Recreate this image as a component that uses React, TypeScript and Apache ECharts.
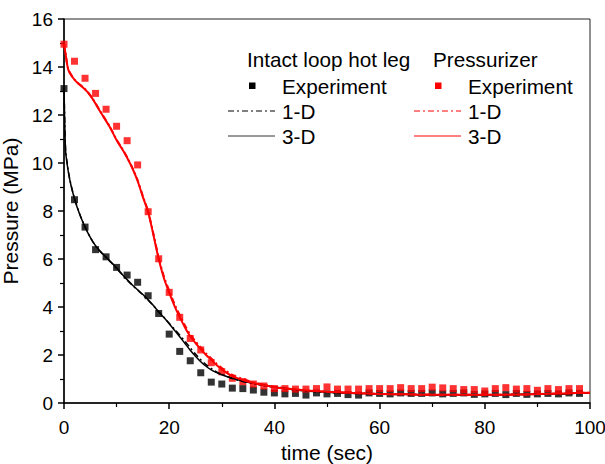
import React, { useEffect, useRef } from "react";
import * as echarts from "echarts";

// ---- data ----
const expTime = [0, 2, 4, 6, 8, 10, 12, 14, 16, 18, 20, 22, 24, 26, 28, 30, 32, 34, 36, 38, 40, 42, 44, 46, 48, 50, 52, 54, 56, 58, 60, 62, 64, 66, 68, 70, 72, 74, 76, 78, 80, 82, 84, 86, 88, 90, 92, 94, 96, 98];

const hotLegExp = [13.1, 8.47, 7.33, 6.39, 6.09, 5.65, 5.33, 5.03, 4.47, 3.73, 2.87, 2.15, 1.76, 1.26, 0.87, 0.79, 0.62, 0.6, 0.54, 0.45, 0.42, 0.38, 0.4, 0.33, 0.42, 0.38, 0.4, 0.35, 0.33, 0.42, 0.4, 0.38, 0.42, 0.4, 0.4, 0.42, 0.38, 0.4, 0.42, 0.36, 0.38, 0.4, 0.35, 0.4, 0.36, 0.38, 0.4, 0.38, 0.42, 0.4];

const przExp = [14.95, 14.24, 13.53, 12.9, 12.24, 11.53, 10.93, 9.92, 7.97, 6.01, 4.61, 3.57, 2.69, 2.21, 1.68, 1.3, 1.03, 0.89, 0.79, 0.71, 0.6, 0.6, 0.58, 0.58, 0.6, 0.67, 0.58, 0.58, 0.58, 0.6, 0.6, 0.6, 0.64, 0.6, 0.6, 0.66, 0.63, 0.6, 0.56, 0.56, 0.5, 0.6, 0.64, 0.58, 0.6, 0.53, 0.6, 0.56, 0.6, 0.6];

const hotLeg3D = [[0, 13.1], [0.15, 11.6], [0.3, 10.5], [0.6, 9.95], [1.1, 9.3], [2, 8.5], [3, 7.85], [4, 7.33], [5, 6.9], [6, 6.55], [7, 6.3], [8, 6.08], [9, 5.86], [10, 5.63], [11, 5.38], [12, 5.14], [13, 4.92], [14, 4.72], [15, 4.52], [16, 4.3], [17, 4.06], [18, 3.8], [19, 3.56], [20, 3.3], [21, 3.03], [22, 2.76], [23, 2.48], [24, 2.2], [25, 1.95], [26, 1.72], [27, 1.53], [28, 1.38], [29, 1.27], [30, 1.18], [32, 1.03], [34, 0.91], [36, 0.82], [38, 0.74], [40, 0.67], [43, 0.58], [46, 0.51], [50, 0.45], [55, 0.41], [60, 0.38], [65, 0.36], [70, 0.34], [75, 0.34], [80, 0.34], [85, 0.35], [90, 0.37], [95, 0.39], [100, 0.42]];

const hotLeg1D = [[0, 13.1], [0.15, 11.7], [0.3, 10.6], [0.6, 10.0], [1.1, 9.32], [2, 8.52], [3, 7.86], [4, 7.34], [5, 6.9], [6, 6.54], [7, 6.28], [8, 6.06], [9, 5.84], [10, 5.6], [11, 5.36], [12, 5.12], [13, 4.9], [14, 4.7], [15, 4.5], [16, 4.28], [17, 4.05], [18, 3.8], [19, 3.57], [20, 3.32], [21, 3.08], [22, 2.83], [23, 2.57], [24, 2.3], [25, 2.04], [26, 1.8], [27, 1.6], [28, 1.44], [29, 1.3], [30, 1.19], [32, 1.02], [34, 0.9], [36, 0.81], [38, 0.73], [40, 0.66], [43, 0.57], [46, 0.5], [50, 0.44], [55, 0.4], [60, 0.37], [65, 0.35], [70, 0.34], [75, 0.33], [80, 0.34], [85, 0.35], [90, 0.36], [95, 0.38], [100, 0.41]];

const prz3D = [[0, 14.95], [0.3, 14.55], [0.8, 13.9], [1.7, 13.55], [2.6, 13.33], [3.6, 13.15], [4.5, 12.95], [5.5, 12.65], [7, 12.1], [8.7, 11.5], [10, 10.95], [11, 10.6], [12, 10.22], [13, 9.78], [14, 9.25], [15, 8.58], [16, 7.95], [17, 7.0], [18, 6.0], [19, 5.2], [20, 4.6], [21, 4.05], [22, 3.58], [23, 3.15], [24, 2.78], [25, 2.5], [26, 2.25], [27, 2.0], [28, 1.8], [29, 1.58], [30, 1.4], [32, 1.12], [34, 0.96], [36, 0.83], [38, 0.74], [40, 0.66], [43, 0.58], [46, 0.52], [50, 0.47], [55, 0.42], [60, 0.38], [65, 0.36], [70, 0.34], [75, 0.34], [80, 0.34], [85, 0.35], [90, 0.37], [95, 0.4], [100, 0.43]];

const prz1D = [[0, 14.95], [0.3, 14.58], [0.8, 13.92], [1.7, 13.56], [2.6, 13.34], [3.6, 13.16], [4.5, 12.96], [5.5, 12.66], [7, 12.12], [8.7, 11.52], [10, 10.97], [11, 10.62], [12, 10.24], [13, 9.8], [14, 9.28], [15, 8.62], [16, 7.98], [17, 7.05], [18, 6.06], [19, 5.27], [20, 4.68], [21, 4.13], [22, 3.66], [23, 3.23], [24, 2.86], [25, 2.57], [26, 2.32], [27, 2.07], [28, 1.86], [29, 1.64], [30, 1.46], [32, 1.17], [34, 1.0], [36, 0.86], [38, 0.76], [40, 0.68], [43, 0.59], [46, 0.53], [50, 0.47], [55, 0.42], [60, 0.38], [65, 0.36], [70, 0.35], [75, 0.34], [80, 0.34], [85, 0.35], [90, 0.37], [95, 0.4], [100, 0.43]];

const xTicks = { min: 0, max: 100, interval: 20 };
const yTicks = { min: 0, max: 16, interval: 2 };

const FONT = "'Liberation Sans', Arial, sans-serif";
const RED = "#ff0000";
const BLACK = "#000000";
const DASH = [6, 3, 2, 3];

export default function App() {
  const ref = useRef<HTMLDivElement>(null);

  useEffect(() => {
    if (!ref.current) return;
    const chart = echarts.init(ref.current, undefined, { renderer: "svg" });

    const axisCommon = {
      axisLine: { show: true, lineStyle: { color: BLACK, width: 1.5 } },
      axisTick: { show: true, length: 6, lineStyle: { color: BLACK, width: 1.5 } },
      minorTick: { show: true, splitNumber: 2, length: 4, lineStyle: { color: BLACK, width: 1.2 } },
      splitLine: { show: false },
      minorSplitLine: { show: false },
      axisLabel: { color: BLACK, fontSize: 19, fontFamily: FONT },
      nameTextStyle: { color: BLACK, fontSize: 21, fontFamily: FONT },
    };

    const legendText = (x: number, y: number, text: string) => ({
      type: "text",
      x,
      y,
      style: { text, fill: BLACK, font: `20.7px ${FONT}`, textVerticalAlign: "middle", textAlign: "left" },
    });

    chart.setOption({
      animation: false,
      backgroundColor: "#ffffff",
      grid: {
        left: 64,
        top: 19,
        right: 15,
        bottom: 61,
        containLabel: false,
        outerBoundsMode: "none",
        show: true,
        borderColor: "#222",
        borderWidth: 1,
        backgroundColor: "transparent",
      },
      xAxis: {
        type: "value",
        ...xTicks,
        ...axisCommon,
        axisLabel: { ...axisCommon.axisLabel, margin: 15 },
        name: "time (sec)",
        nameLocation: "middle",
        nameGap: 38,
      },
      yAxis: {
        type: "value",
        ...yTicks,
        ...axisCommon,
        axisLabel: { ...axisCommon.axisLabel, margin: 11 },
        name: "Pressure (MPa)",
        nameLocation: "middle",
        nameGap: 36,
      },
      series: [
        {
          name: "Hot leg Experiment",
          type: "scatter",
          symbol: "rect",
          symbolSize: 7,
          itemStyle: { color: BLACK },
          data: expTime.map((t, i) => [t, hotLegExp[i]]),
          z: 2,
        },
        {
          name: "Pressurizer Experiment",
          type: "scatter",
          symbol: "rect",
          symbolSize: 7,
          itemStyle: { color: RED },
          data: expTime.map((t, i) => [t, przExp[i]]),
          z: 2,
        },
        {
          name: "Hot leg 1-D",
          type: "line",
          showSymbol: false,
          smooth: 0.3,
          lineStyle: { color: BLACK, width: 1.5, type: DASH },
          data: hotLeg1D,
          z: 3,
        },
        {
          name: "Hot leg 3-D",
          type: "line",
          showSymbol: false,
          smooth: 0.3,
          lineStyle: { color: BLACK, width: 1.5 },
          data: hotLeg3D,
          z: 3,
        },
        {
          name: "Pressurizer 1-D",
          type: "line",
          showSymbol: false,
          smooth: 0.3,
          lineStyle: { color: RED, width: 2, type: DASH },
          data: prz1D,
          z: 4,
        },
        {
          name: "Pressurizer 3-D",
          type: "line",
          showSymbol: false,
          smooth: 0.3,
          lineStyle: { color: RED, width: 2 },
          data: prz3D,
          z: 4,
        },
      ],
      graphic: [
        legendText(247, 59, "Intact loop hot leg"),
        legendText(433, 59, "Pressurizer"),
        { type: "rect", shape: { x: 249, y: 82.5, width: 6.5, height: 6.5 }, style: { fill: BLACK } },
        legendText(282, 86, "Experiment"),
        { type: "line", shape: { x1: 228, y1: 111, x2: 275, y2: 111 }, style: { stroke: BLACK, lineWidth: 1, lineDash: DASH } },
        legendText(282, 111.5, "1-D"),
        { type: "line", shape: { x1: 228, y1: 136, x2: 275, y2: 136 }, style: { stroke: "#333", lineWidth: 1 } },
        legendText(282, 136.5, "3-D"),
        { type: "rect", shape: { x: 435, y: 82.5, width: 6.5, height: 6.5 }, style: { fill: RED } },
        legendText(468, 86, "Experiment"),
        { type: "line", shape: { x1: 414, y1: 111, x2: 461, y2: 111 }, style: { stroke: RED, lineWidth: 1, lineDash: DASH } },
        legendText(468, 111.5, "1-D"),
        { type: "line", shape: { x1: 414, y1: 136, x2: 461, y2: 136 }, style: { stroke: RED, lineWidth: 1 } },
        legendText(468, 136.5, "3-D"),
      ],
    });

    return () => chart.dispose();
  }, []);

  return (
    <div
      ref={ref}
      style={{ position: "fixed", left: 0, top: 0, width: 605, height: 464, background: "#fff" }}
    />
  );
}
